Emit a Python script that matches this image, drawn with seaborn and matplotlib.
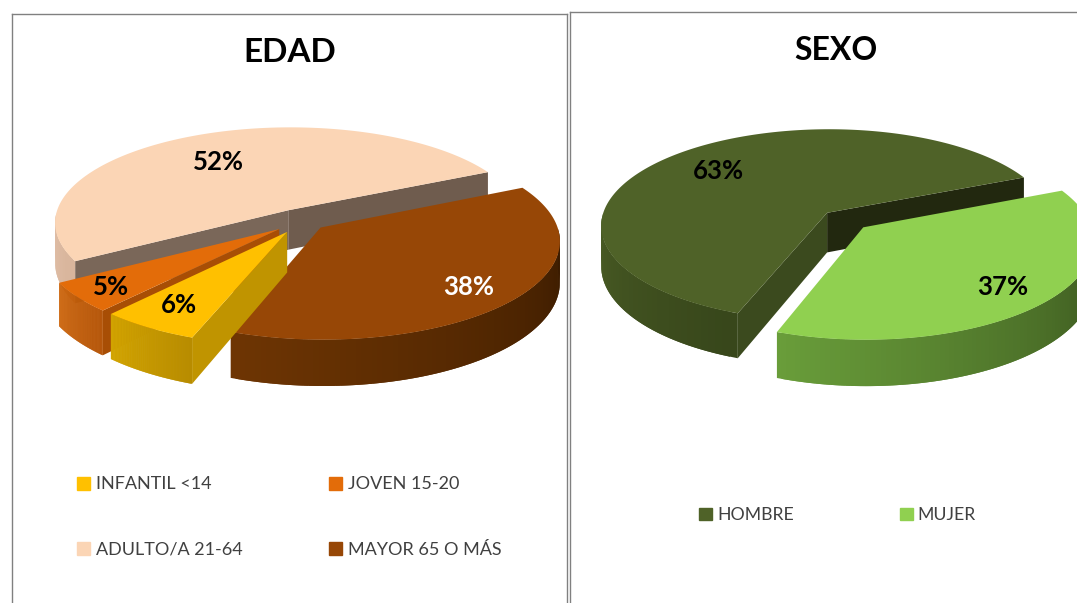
"""
EDAD / SEXO exploded 3D style pie charts
"""

import numpy as np
import matplotlib
matplotlib.use("Agg")
import matplotlib.pyplot as plt
from matplotlib.patches import Patch
import seaborn as sns

# Data
edad_labels = ["INFANTIL <14", "JOVEN 15-20", "ADULTO/A 21-64", "MAYOR 65 O MÁS"]
edad_values = [6, 5, 52, 38]
sexo_labels = ["HOMBRE", "MUJER"]
sexo_values = [63, 37]

# Colours
edad_top = ["#ffc000", "#e36c09", "#fbd5b5", "#974706"]
edad_side = [("#d2a400", "#b88c00"), ("#cc6308", "#b55407"),
             ("#e2c0a8", "#d8b59c"), ("#6e3503", "#3a1b00")]
edad_cut = [("#c09400", "#c09400"), ("#a84e05", "#a84e05"),
            ("#6f5c4e", "#7a6759"), (None, None)]
sexo_top = ["#4f6228", "#90d050"]
sexo_side = [("#4a5d25", "#38471b"), ("#699d3a", "#37501c")]
sexo_cut = [("#22280f", "#3b4a1e"), (None, None)]

W, H = 1077, 603
PERSP = 0.128
Y_SCALE = 96.0
DEPTH = 40.0

sns.set_theme(style="white")
plt.rcParams["font.family"] = ["Lato", "DejaVu Sans"]

fig = plt.figure(figsize=(W / 100, H / 100), dpi=100, facecolor="white")


def project(x, y, rx):
    """Tilt the flat pie: points nearer the viewer get larger.
    Returns x, y of the top edge and y of the bottom edge."""
    x, y = np.asarray(x), np.asarray(y)
    k = 1 / (1 + PERSP * y)
    top = y * k * Y_SCALE / rx
    return x * k, top, top - k * DEPTH / rx


def quad_x(t, wedge):
    return wedge.center[0] + wedge.r * np.cos(np.radians(t))


def quad_y(t, wedge):
    return wedge.center[1] + wedge.r * np.sin(np.radians(t))


def draw_wedge(ax, wedge, top, side, cut, rx, z):
    t1, t2 = wedge.theta1, wedge.theta2
    cx, cy = wedge.center

    # flat faces left by the cut, only the ones turned to the viewer
    for t, col, visible in [(t1, cut[0], np.cos(np.radians(t1)) > 0),
                            (t2, cut[1], np.cos(np.radians(t2)) < 0)]:
        if not visible:
            continue
        px, py, pb = project([cx, quad_x(t, wedge)], [cy, quad_y(t, wedge)], rx)
        ax.fill([px[0], px[1], px[1], px[0]],
                [py[0], py[1], pb[1], pb[0]],
                color=col, lw=0, zorder=z)

    # outer rim, only the front half; strips overlap to avoid seams
    thetas = np.linspace(t1, t2, 121)
    thetas = thetas[np.sin(np.radians(thetas)) < 0]
    if len(thetas) > 2:
        rim = sns.blend_palette(list(side), n_colors=len(thetas) - 2)
        for a, b, col in zip(thetas[:-2], thetas[2:], rim):
            px, py, pb = project([quad_x(a, wedge), quad_x(b, wedge)],
                                 [quad_y(a, wedge), quad_y(b, wedge)], rx)
            ax.fill([px[0], px[1], px[1], px[0]],
                    [py[0], py[1], pb[1], pb[0]],
                    color=col, lw=0, zorder=z + 1)

    # top face
    thetas = np.linspace(t1, t2, 181)
    px, py, _ = project(np.r_[cx, quad_x(thetas, wedge)],
                        np.r_[cy, quad_y(thetas, wedge)], rx)
    ax.fill(px, py, color=top, lw=0, zorder=z + 2)
    wedge.set_visible(False)


def draw_panel(box, center, rx, values, startangle, explode, tops, sides, cuts):
    left, top, right = box
    ax = fig.add_axes([left / W, 0, (right - left) / W, (H - top) / H])
    wedges, _ = ax.pie(values, explode=explode, startangle=startangle,
                       counterclock=False, colors=tops)
    ax.set_aspect("auto")
    ax.set_xlim((left - center[0]) / rx, (right - center[0]) / rx)
    ax.set_ylim((center[1] - H) / rx, (center[1] - top) / rx)
    ax.set_frame_on(True)
    ax.set_xticks([])
    ax.set_yticks([])
    ax.set_facecolor("white")
    for name, spine in ax.spines.items():
        spine.set_color("#808080")
        spine.set_linewidth(1)
    ax.spines["bottom"].set_visible(False)

    # back slices first
    order = sorted(range(len(wedges)), key=lambda i: -wedges[i].center[1])
    for rank, i in enumerate(order):
        draw_wedge(ax, wedges[i], tops[i], sides[i], cuts[i], rx, 5 + rank * 5)
    return ax


def label_at(x, y, text, **kwargs):
    fig.text(x / W, 1 - y / H, text, ha="center", va="center", **kwargs)


# EDAD panel
ax1 = draw_panel((12, 14, 567), (303, 221), 235, edad_values, -110,
                 [0.13, 0.13, 0.13, 0.10], edad_top, edad_side, edad_cut)
# SEXO panel, its right edge is cut by the image
ax2 = draw_panel((570, 12, 1079), (845, 220), 226, sexo_values, -110,
                 [0.11] * 2, sexo_top, sexo_side, sexo_cut)

label_at(290, 53, "EDAD", fontsize=24, fontweight="bold", color="black")
label_at(836, 51, "SEXO", fontsize=23, fontweight="bold", color="black")

edad_pos = [(179, 305), (111, 287), (218, 162), (469, 287)]
edad_text = ["black", "black", "black", "white"]
for v, (x, y), c in zip(edad_values, edad_pos, edad_text):
    label_at(x, y, f"{v}%", fontsize=18.5, fontweight="bold", color=c)

sexo_pos = [(718, 171), (1003, 287)]
for v, (x, y) in zip(sexo_values, sexo_pos):
    label_at(x, y, f"{v}%", fontsize=18.5, fontweight="bold", color="black")

# Legends, column by column
edad_handles = [Patch(color=c, label=l) for c, l in zip(edad_top, edad_labels)]
fig.legend(handles=[edad_handles[0], edad_handles[2], edad_handles[1], edad_handles[3]],
           ncol=2, loc="upper left", bbox_to_anchor=(72 / W, 1 - 471 / H),
           frameon=False, fontsize=13, labelcolor="#404040", borderpad=0,
           handlelength=0.72, handleheight=0.72, handletextpad=0.3,
           labelspacing=2.72, columnspacing=4.8, borderaxespad=0.3)
sexo_handles = [Patch(color=c, label=l) for c, l in zip(sexo_top, sexo_labels)]
fig.legend(handles=sexo_handles, ncol=2, loc="upper left",
           bbox_to_anchor=(694 / W, 1 - 502 / H),
           frameon=False, fontsize=12.7, labelcolor="#404040", borderpad=0,
           handlelength=0.72, handleheight=0.72, handletextpad=0.3,
           columnspacing=6.0, borderaxespad=0.3)

fig.savefig("out.png", dpi=100)
